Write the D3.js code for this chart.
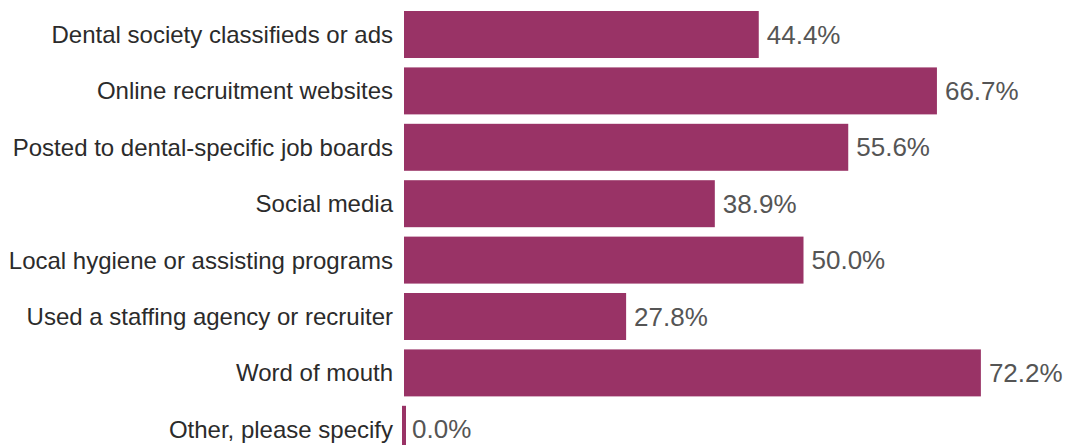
<!DOCTYPE html>
<html>
<head>
<meta charset="utf-8">
<script src="https://cdn.jsdelivr.net/npm/d3@7"></script>
<style>
  body { margin: 0; background: #fff; }
  svg { display: block; font-family: "Liberation Sans", Arial, sans-serif; }
</style>
</head>
<body>
<div id="chart-container"></div>
<script>
var categories = [
  "Dental society classifieds or ads",
  "Online recruitment websites",
  "Posted to dental-specific job boards",
  "Social media",
  "Local hygiene or assisting programs",
  "Used a staffing agency or recruiter",
  "Word of mouth",
  "Other, please specify"
];
var values = [44.4, 66.7, 55.6, 38.9, 50.0, 27.8, 72.2, 0.0];

var width = 1068, height = 445;
var barColor = "#993366";

var x = d3.scaleLinear()
    .domain([0, 100])
    .range([404, 1203]);

var y = d3.scaleBand()
    .domain(categories)
    .range([6.3, 457.5])
    .paddingInner(0.167)
    .paddingOuter(0.0835);

var svg = d3.select("#chart-container")
    .append("svg")
    .attr("width", width)
    .attr("height", height);

var data = categories.map(function(c, i) { return { cat: c, val: values[i] }; });

// bars (zero values still get a thin sliver)
svg.selectAll("rect.bar")
    .data(data)
    .enter().append("rect")
    .attr("class", "bar")
    .attr("x", function(d) { return d.val > 0 ? x(0) : x(0) - 2; })
    .attr("y", function(d) { return y(d.cat); })
    .attr("width", function(d) { return d.val > 0 ? x(d.val) - x(0) : 4; })
    .attr("height", y.bandwidth())
    .style("fill", barColor);

// category labels
svg.selectAll("text.cat")
    .data(data)
    .enter().append("text")
    .attr("class", "cat")
    .attr("x", x(0) - 11)
    .attr("y", function(d) { return y(d.cat) + y.bandwidth() / 2; })
    .attr("dy", "0.35em")
    .attr("text-anchor", "end")
    .style("font-size", "24px")
    .style("fill", "#2b2b2b")
    .text(function(d) { return d.cat; });

// value labels
svg.selectAll("text.val")
    .data(data)
    .enter().append("text")
    .attr("class", "val")
    .attr("x", function(d) { return (d.val > 0 ? x(d.val) : x(0)) + 8; })
    .attr("y", function(d) { return y(d.cat) + y.bandwidth() / 2; })
    .attr("dy", "0.35em")
    .style("font-size", "26px")
    .style("fill", "#555")
    .text(function(d) { return d.val.toFixed(1) + "%"; });
</script>
</body>
</html>
